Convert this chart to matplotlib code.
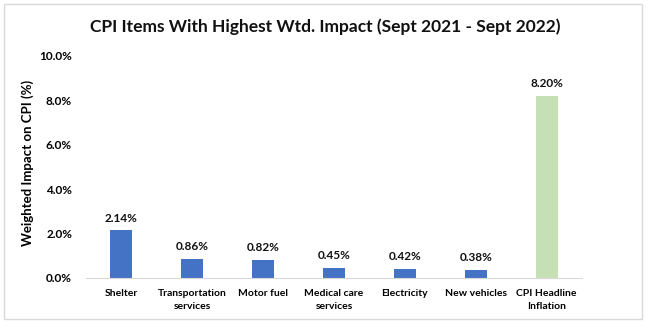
import matplotlib.pyplot as plt
from matplotlib.patches import Rectangle
from matplotlib.ticker import FuncFormatter

categorias = ["Shelter", "Transportation\nservices", "Motor fuel", "Medical care\nservices",
              "Electricity", "New vehicles", "CPI Headline\nInflation"]
valores = [2.14, 0.86, 0.82, 0.45, 0.42, 0.38, 8.20]
rotulos = ["2.14%", "0.86%", "0.82%", "0.45%", "0.42%", "0.38%", "8.20%"]
cores = ["#4472C4"] * 6 + ["#C5E0B4"]

plt.rcParams['font.family'] = ['Lato', 'DejaVu Sans']
plt.rcParams['font.weight'] = 'bold'

fig = plt.figure(figsize=(6.5, 3.28), dpi=100)
ax = fig.add_axes([86 / 650, 1 - 278 / 328, 496 / 650, 222 / 328])

x = range(len(categorias))
barras = ax.bar(x, valores, width=0.31, color=cores)
for b, r in zip(barras, rotulos):
    ax.text(b.get_x() + b.get_width() / 2, b.get_height() + 0.3, r,
            ha='center', va='bottom', fontsize=8.5, fontweight='bold', color='#111111')

ax.set_xlim(-0.5, len(categorias) - 0.5)
ax.set_ylim(0, 10)
ax.set_yticks([0, 2, 4, 6, 8, 10])
ax.yaxis.set_major_formatter(FuncFormatter(lambda v, p: f"{v:.1f}%"))
ax.set_xticks(list(x))
ax.set_xticklabels(categorias, fontsize=7.5, fontweight='bold', linespacing=1.5)
ax.tick_params(axis='y', labelsize=8.5, length=0, pad=10)
ax.tick_params(axis='x', length=0, pad=8)
for s in ['top', 'right', 'left']:
    ax.spines[s].set_visible(False)
ax.spines['bottom'].set_color('#D9D9D9')
ax.set_ylabel("Weighted Impact on CPI (%)", fontsize=9.5, fontweight='bold')
ax.yaxis.set_label_coords(-0.105, 0.52)

fig.text(0.5, 1 - 27 / 328, "CPI Items With Highest Wtd. Impact (Sept 2021 - Sept 2022)",
         ha='center', va='center', fontsize=12.5, fontweight='bold', color='#111111')

fig.patches.append(Rectangle((4 / 650, 1 - 319 / 328), 638 / 650, 315 / 328,
                             transform=fig.transFigure, fill=False, edgecolor='#D9D9D9', lw=1))

plt.savefig("out.png", dpi=100)
